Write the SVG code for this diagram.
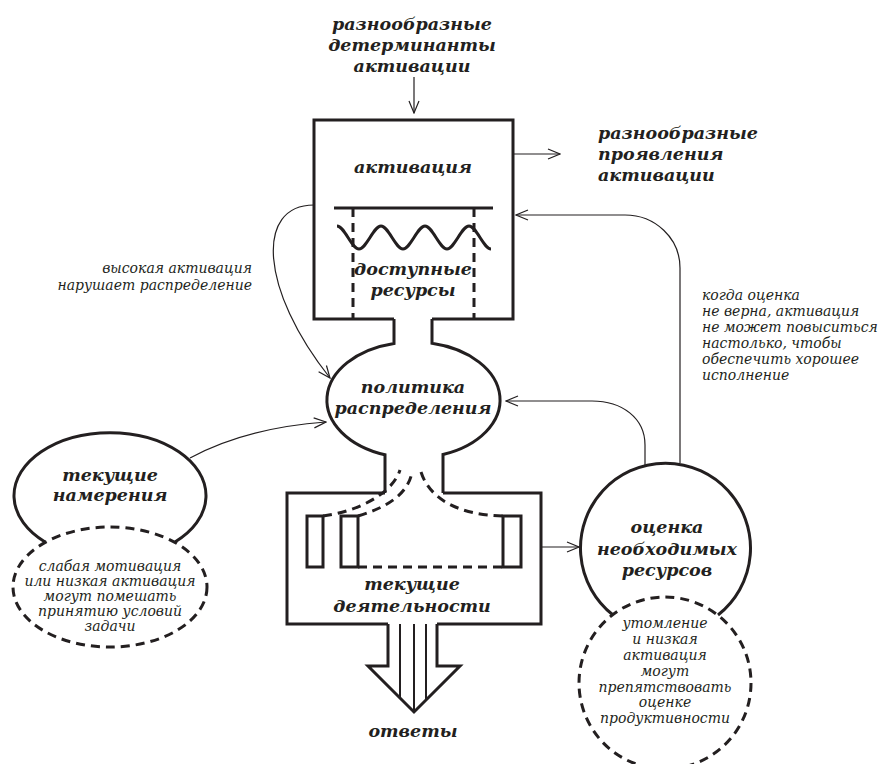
<svg xmlns="http://www.w3.org/2000/svg" width="879" height="764" viewBox="0 0 879 764">
<defs>
<style>
.b{font-family:"DejaVu Serif","Liberation Serif",serif;font-style:italic;font-weight:bold;font-size:17.5px;fill:#231f20;text-anchor:middle}
.s{font-family:"DejaVu Serif","Liberation Serif",serif;font-style:italic;font-size:14px;fill:#231f20}
.thick{fill:none;stroke:#231f20;stroke-width:3}
.dash{fill:none;stroke:#231f20;stroke-width:3;stroke-dasharray:9,6}
.conn{fill:none;stroke:#231f20;stroke-width:1.2}
</style>
<marker id="ah" markerWidth="14" markerHeight="12" refX="13" refY="6" orient="auto" markerUnits="userSpaceOnUse">
<path d="M1,1 L13,6 L1,11" fill="none" stroke="#231f20" stroke-width="1.2"/>
</marker>
</defs>
<rect width="879" height="764" fill="#fff"/>

<g id="connectors">
<path class="conn" d="M414,77 L414,113" marker-end="url(#ah)"/>
<path class="conn" d="M513,154 L560,154" marker-end="url(#ah)"/>
<path class="conn" d="M314,205 C255,205 260,290 330,378" marker-end="url(#ah)"/>
<path class="conn" d="M680,463 L680,268 C680,238 655,215 625,215 L516,215" marker-end="url(#ah)"/>
<path class="conn" d="M645,467 L645,445 C645,418 622,401 592,401 L506,401" marker-end="url(#ah)"/>
<path class="conn" d="M190,458 Q245,428 326,422" marker-end="url(#ah)"/>
<path class="conn" d="M541,547 L579,547" marker-end="url(#ah)"/>
</g>

<g id="determinants">
<text class="b" x="412" y="30">разнообразные</text>
<text class="b" x="412" y="51">детерминанты</text>
<text class="b" x="412" y="72">активации</text>
</g>

<g id="manifestations">
<text class="b" x="598" y="139" style="text-anchor:start">разнообразные</text>
<text class="b" x="598" y="160" style="text-anchor:start">проявления</text>
<text class="b" x="598" y="181" style="text-anchor:start">активации</text>
</g>

<g id="activation">
<path class="thick" d="M394,319 L314,319 L314,120 L513,120 L513,319 L432,319"/>
<text class="b" x="413" y="173">активация</text>
<path class="thick" d="M334,208 L493,208"/>
<path class="dash" d="M353,208 L353,319 M474,208 L474,319"/>
<path class="thick" d="M337,226 C344.3,226 351.7,249 359,249 S373.7,226 381,226 S395.7,249 403,249 S417.7,226 425,226 S439.7,249 447,249 S461.7,226 469,226 S483.7,249 491,249"/>
<text class="b" x="413" y="275">доступные</text>
<text class="b" x="413" y="296">ресурсы</text>
</g>

<g id="policy">
<path class="thick" d="M394,319 L394,343.5 A86.5,58 0 0,0 385,454.8 L385,493 M432,319 L432,343.3 A86.5,58 0 0,1 443,454.5 L443,493"/>
<text class="b" x="413" y="393">политика</text>
<text class="b" x="413" y="414">распределения</text>
</g>

<g id="activities">
<path class="thick" d="M385,493 L287,493 L287,624 L388,624 M437,624 L541,624 L541,493 L443,493"/>
<rect class="thick" x="307" y="516" width="16" height="51"/>
<rect class="thick" x="341" y="516" width="17" height="51"/>
<rect class="thick" x="503" y="516" width="18" height="51"/>
<path class="dash" d="M358,567 L503,567"/>
<path class="dash" d="M323,516 C355,512 392,495 400,470"/>
<path class="dash" d="M358,516 C385,508 408,495 412,472"/>
<path class="dash" d="M421,472 C430,500 460,515 503,516"/>
<text class="b" x="412" y="590">текущие</text>
<text class="b" x="412" y="612">деятельности</text>
</g>

<g id="responses">
<path class="thick" d="M388,624 L388,666 L368,666 L414,712 L460,666 L437,666 L437,624"/>
<path fill="none" stroke="#231f20" stroke-width="2" d="M400,624 L400,698 M414,624 L414,712 M426,624 L426,700"/>
<text class="b" x="413" y="737">ответы</text>
</g>

<g id="intentions">
<path class="thick" d="M45,542 A96,63 0 1,1 175,542"/>
<text class="b" x="110" y="481">текущие</text>
<text class="b" x="110" y="501">намерения</text>
</g>

<g id="intentions-note">
<ellipse class="dash" cx="110" cy="587" rx="97" ry="60"/>
<text class="s" text-anchor="middle" x="110" y="571">слабая мотивация</text>
<text class="s" text-anchor="middle" x="110" y="586">или низкая активация</text>
<text class="s" text-anchor="middle" x="110" y="601">могут помешать</text>
<text class="s" text-anchor="middle" x="110" y="616">принятию условий</text>
<text class="s" text-anchor="middle" x="110" y="631">задачи</text>
</g>

<g id="assessment">
<path class="thick" d="M613,615 A85,85 0 1,1 718,615"/>
<text class="b" x="667" y="533">оценка</text>
<text class="b" x="667" y="555">необходимых</text>
<text class="b" x="667" y="576">ресурсов</text>
</g>

<g id="assessment-note">
<circle class="dash" cx="665" cy="683" r="86"/>
<text class="s" text-anchor="middle" x="665" y="628">утомление</text>
<text class="s" text-anchor="middle" x="665" y="644">и низкая</text>
<text class="s" text-anchor="middle" x="665" y="660">активация</text>
<text class="s" text-anchor="middle" x="665" y="676">могут</text>
<text class="s" text-anchor="middle" x="665" y="692">препятствовать</text>
<text class="s" text-anchor="middle" x="665" y="707">оценке</text>
<text class="s" text-anchor="middle" x="665" y="723">продуктивности</text>
</g>

<g id="label-high">
<text class="s" text-anchor="end" x="252" y="273">высокая активация</text>
<text class="s" text-anchor="end" x="252" y="290">нарушает распределение</text>
</g>

<g id="label-wrong">
<text class="s" x="702" y="300">когда оценка</text>
<text class="s" x="702" y="316">не верна, активация</text>
<text class="s" x="702" y="332">не может повыситься</text>
<text class="s" x="702" y="348">настолько, чтобы</text>
<text class="s" x="702" y="364">обеспечить хорошее</text>
<text class="s" x="702" y="380">исполнение</text>
</g>
</svg>
